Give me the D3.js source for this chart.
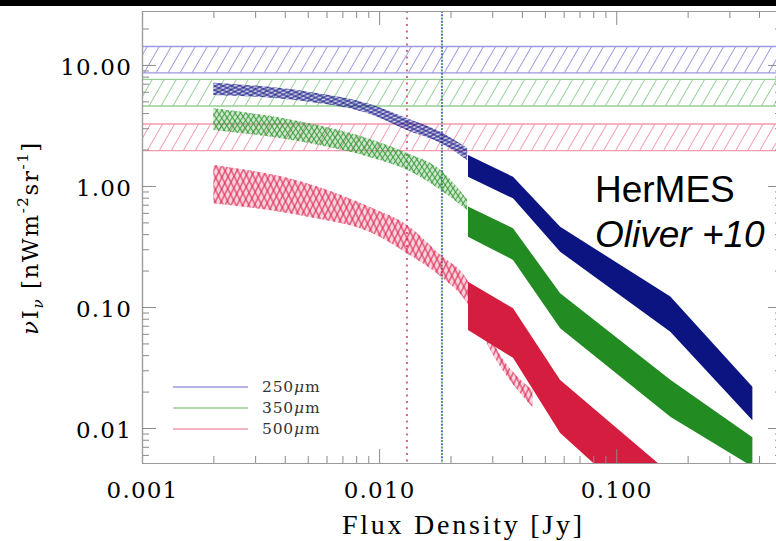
<!DOCTYPE html>
<html>
<head>
<meta charset="utf-8">
<script src="https://cdn.jsdelivr.net/npm/d3@7"></script>
<style>
  body { margin: 0; background: #fff; }
  svg { display: block; }
</style>
</head>
<body>
<svg id="chart" width="776" height="541"></svg>
<script>
// ---- data -------------------------------------------------------------
const bandNames = ["250\u03bcm", "350\u03bcm", "500\u03bcm"];

// total background level per band (hatched horizontal strips)
const backgroundHi = [14.2, 7.6, 3.25];
const backgroundLo = [8.6, 4.58, 1.96];

// stacked contribution (sketchy bands)
const stackFlux    = [0.002, 0.005, 0.0094, 0.0131, 0.0181, 0.0235];
const stack250Hi   = [7.14, 6.0, 4.67, 3.63, 2.81, 2.06];
const stack250Lo   = [5.65, 4.98, 3.86, 2.9, 2.27, 1.64];
const stack350Hi   = [4.39, 3.31, 2.4, 1.87, 1.36, 0.77];
const stack350Lo   = [2.9, 2.27, 1.7, 1.36, 0.93, 0.63];
const stack500Flux = [0.002, 0.005, 0.0094, 0.0131, 0.0181, 0.0235, 0.0303, 0.0443];
const stack500Hi   = [1.49, 1.05, 0.654, 0.476, 0.27, 0.167, 0.0504, 0.0206];
const stack500Lo   = [0.72, 0.557, 0.406, 0.278, 0.18, 0.108, 0.040, 0.0149];

// resolved counts, HerMES (Oliver +10)
const oliverFlux  = [0.0237, 0.0367, 0.058, 0.169, 0.375];
const oliver250Hi = [1.80, 1.19, 0.46, 0.122, 0.0219];
const oliver250Lo = [1.19, 0.79, 0.286, 0.0625, 0.0116];
const oliver350Hi = [0.675, 0.447, 0.130, 0.025, 0.0084];
const oliver350Lo = [0.381, 0.245, 0.0667, 0.0124, 0.0048];
const oliver500Hi = [0.162, 0.0976, 0.0249, 0.0042];
const oliver500Lo = [0.0645, 0.038, 0.0091, 0.00136];

// flux limits (dotted verticals)
const limitFlux = [0.0184, 0.0184, 0.0131];

const xMajor = [0.001, 0.01, 0.1];
const yMajor = [0.01, 0.1, 1, 10];

// ---- styling ----------------------------------------------------------
const solidColors  = ["#0b1480", "#228b22", "#d51d3f"];
const lightColors  = ["#9a9ae0", "#94cf94", "#f29ab0"];
const sketchColors = ["#1a1a8a", "#2f962f", "#dc2450"];
const limitColors  = ["#5a64c0", "#4f9f6a", "#e0608a"];

const svg = d3.select("#chart");
const L = 142, R = 782, T = 11, B = 463;

const x = d3.scaleLog().domain([0.001, 0.5]).range([L, R]);
const y = d3.scaleLog().domain([0.00514, 27.9]).range([B, T]);

svg.append("rect").attr("width", 776).attr("height", 541).attr("fill", "#fff");
svg.append("rect").attr("width", 776).attr("height", 6).attr("fill", "#000");

const defs = svg.append("defs");
defs.append("clipPath").attr("id", "plotClip")
  .append("rect").attr("x", L).attr("y", T).attr("width", R - L).attr("height", B - T);

function linePattern(id, color, spacing, angle, width, opacity) {
  const p = defs.append("pattern").attr("id", id)
    .attr("patternUnits", "userSpaceOnUse")
    .attr("width", spacing).attr("height", spacing)
    .attr("patternTransform", `rotate(${angle})`);
  p.append("line")
    .attr("x1", spacing / 2).attr("y1", -1)
    .attr("x2", spacing / 2).attr("y2", spacing + 1)
    .attr("stroke", color).attr("stroke-width", width).attr("stroke-opacity", opacity);
}

// diagonal hatching for the background strips
bandNames.forEach((_, i) => linePattern(`hatch${i}`, lightColors[i], 10.4, 30, 1, 1));

// cross-hatching for the stacked bands
const sketchSpec = [
  { sp: 3.4, a: 64, w: 1.2, o: 0.8 },
  { sp: 4.2, a: 34, w: 1.15, o: 0.85 },
  { sp: 5.2, a: 27, w: 1.15, o: 0.9 }
];
sketchSpec.forEach((s, i) => {
  linePattern(`sketchA${i}`, sketchColors[i], s.sp, s.a, s.w, s.o);
  linePattern(`sketchB${i}`, sketchColors[i], s.sp * 1.1, -s.a, s.w, s.o);
});

defs.append("filter").attr("id", "soft")
  .append("feGaussianBlur").attr("stdDeviation", 0.35);

const plot = svg.append("g").attr("clip-path", "url(#plotClip)");

// ---- background strips ------------------------------------------------
bandNames.forEach((_, i) => {
  const y0 = y(backgroundHi[i]), y1 = y(backgroundLo[i]);
  plot.append("rect")
    .attr("x", L).attr("y", y0).attr("width", R - L).attr("height", y1 - y0)
    .attr("fill", `url(#hatch${i})`);
  [y0, y1].forEach(v => plot.append("line")
    .attr("x1", L).attr("x2", R).attr("y1", v).attr("y2", v)
    .attr("stroke", lightColors[i]).attr("stroke-width", 1.3));
});

// ---- dotted flux limits ----------------------------------------------
[2, 1, 0].forEach(i => {
  plot.append("line")
    .attr("x1", x(limitFlux[i])).attr("x2", x(limitFlux[i]))
    .attr("y1", T).attr("y2", B)
    .attr("stroke", limitColors[i]).attr("stroke-width", 2)
    .attr("stroke-dasharray", "2,4.5")
    .attr("stroke-dashoffset", i === 0 ? 3.2 : 0);
});

// ---- stacked (sketchy) bands ------------------------------------------
const stackSets = [
  { f: stackFlux, hi: stack250Hi, lo: stack250Lo },
  { f: stackFlux, hi: stack350Hi, lo: stack350Lo },
  { f: stack500Flux, hi: stack500Hi, lo: stack500Lo }
];
const stackArea = d3.area()
  .x(d => x(d[0])).y0(d => y(d[2])).y1(d => y(d[1]))
  .curve(d3.curveMonotoneX);

stackSets.forEach((s, i) => {
  const rows = d3.zip(s.f, s.hi, s.lo);
  const g = plot.append("g").attr("filter", "url(#soft)");
  g.append("path").attr("d", stackArea(rows))
    .attr("fill", sketchColors[i]).attr("fill-opacity", 0.2);
  g.append("path").attr("d", stackArea(rows)).attr("fill", `url(#sketchA${i})`);
  g.append("path").attr("d", stackArea(rows)).attr("fill", `url(#sketchB${i})`);
});

// ---- resolved counts (solid bands) ------------------------------------
const oliverSets = [
  { hi: oliver250Hi, lo: oliver250Lo },
  { hi: oliver350Hi, lo: oliver350Lo },
  { hi: oliver500Hi, lo: oliver500Lo }
];
const solidArea = d3.area()
  .x(d => x(d[0])).y0(d => y(d[2])).y1(d => y(d[1]));

oliverSets.forEach((s, i) => {
  const rows = d3.zip(oliverFlux, s.hi, s.lo);
  plot.append("path").attr("d", solidArea(rows))
    .attr("fill", solidColors[i]);
});

// ---- axes -------------------------------------------------------------
const xMinor = x.ticks().filter(v => !xMajor.some(m => Math.abs(m - v) / m < 1e-6));
const yMinor = y.ticks().filter(v => !yMajor.some(m => Math.abs(m - v) / m < 1e-6));

function styleAxis(g) {
  g.select(".domain").attr("stroke", "#9a9a9a").attr("stroke-width", 1.2);
  g.selectAll(".tick line").attr("stroke", "#8a8a8a").attr("stroke-width", 1);
}

const tickFont = "'DejaVu Serif', serif";

// bottom
svg.append("g").attr("transform", `translate(0,${B})`)
  .call(d3.axisBottom(x).tickValues(xMinor).tickSizeInner(-7).tickSizeOuter(0).tickFormat(""))
  .call(styleAxis);
svg.append("g").attr("transform", `translate(0,${B})`)
  .call(d3.axisBottom(x).tickValues(xMajor).tickSizeInner(-14).tickSizeOuter(0)
        .tickPadding(19).tickFormat(d3.format(".3f")))
  .call(styleAxis)
  .call(g => g.selectAll("text")
    .attr("font-family", tickFont).attr("font-size", 23)
    .attr("letter-spacing", 1.2).attr("fill", "#000"));

// top
svg.append("g").attr("transform", `translate(0,${T})`)
  .call(d3.axisTop(x).tickValues(xMinor).tickSizeInner(-7).tickSizeOuter(0).tickFormat(""))
  .call(styleAxis);
svg.append("g").attr("transform", `translate(0,${T})`)
  .call(d3.axisTop(x).tickValues(xMajor).tickSizeInner(-14).tickSizeOuter(0).tickFormat(""))
  .call(styleAxis);

// left
svg.append("g").attr("transform", `translate(${L},0)`)
  .call(d3.axisLeft(y).tickValues(yMinor).tickSizeInner(-7).tickSizeOuter(0).tickFormat(""))
  .call(styleAxis);
svg.append("g").attr("transform", `translate(${L},0)`)
  .call(d3.axisLeft(y).tickValues(yMajor).tickSizeInner(-14).tickSizeOuter(0)
        .tickPadding(10).tickFormat(d3.format(".2f")))
  .call(styleAxis)
  .call(g => g.selectAll("text")
    .attr("font-family", tickFont).attr("font-size", 23)
    .attr("letter-spacing", 1.2).attr("fill", "#000").attr("dy", "0.42em"));

// right
svg.append("g").attr("transform", `translate(${R},0)`)
  .call(d3.axisRight(y).tickValues(yMinor).tickSizeInner(-7).tickSizeOuter(0).tickFormat(""))
  .call(styleAxis);
svg.append("g").attr("transform", `translate(${R},0)`)
  .call(d3.axisRight(y).tickValues(yMajor).tickSizeInner(-14).tickSizeOuter(0).tickFormat(""))
  .call(styleAxis);

// ---- axis titles -----------------------------------------------------
svg.append("text")
  .attr("x", 462).attr("y", 534)
  .attr("text-anchor", "middle")
  .attr("font-family", "'Liberation Serif', serif").attr("font-size", 28)
  .attr("textLength", 240).attr("lengthAdjust", "spacing")
  .text("Flux Density [Jy]");

const yt = svg.append("text")
  .attr("transform", "translate(38,238) rotate(-90)")
  .attr("text-anchor", "middle")
  .attr("font-family", tickFont).attr("font-size", 23)
  .attr("letter-spacing", 1.6);
yt.append("tspan").attr("font-style", "italic").text("\u03bd");
yt.append("tspan").text("I");
yt.append("tspan").attr("font-style", "italic").attr("font-size", 15).attr("dy", 5).text("\u03bd");
yt.append("tspan").attr("dy", -5).text(" [nWm");
yt.append("tspan").attr("font-size", 15).attr("dy", -10).text("-2");
yt.append("tspan").attr("dy", 10).text("sr");
yt.append("tspan").attr("font-size", 15).attr("dy", -10).text("-1");
yt.append("tspan").attr("dy", 10).text("]");

// ---- legend -----------------------------------------------------------
const legend = svg.append("g");
bandNames.forEach((name, i) => {
  const ly = 387 + i * 21;
  legend.append("line")
    .attr("x1", 173).attr("x2", 248).attr("y1", ly).attr("y2", ly)
    .attr("stroke", lightColors[i]).attr("stroke-width", 1.3);
  const t = legend.append("text")
    .attr("x", 262).attr("y", ly + 5)
    .attr("font-family", tickFont).attr("font-size", 15.5)
    .attr("letter-spacing", 0.8).attr("fill", "#333");
  t.append("tspan").text(name.slice(0, 3));
  t.append("tspan").attr("font-style", "italic").text(name.slice(3, 4));
  t.append("tspan").text(name.slice(4));
});

// ---- annotation -------------------------------------------------------
svg.append("text")
  .attr("x", 595).attr("y", 202)
  .attr("font-family", "'Liberation Sans', Arial, sans-serif").attr("font-size", 37)
  .attr("fill", "#000").text("HerMES");
svg.append("text")
  .attr("x", 595).attr("y", 247)
  .attr("font-family", "'Liberation Sans', Arial, sans-serif").attr("font-size", 37)
  .attr("font-style", "italic").attr("fill", "#000").text("Oliver +10");
</script>
</body>
</html>
